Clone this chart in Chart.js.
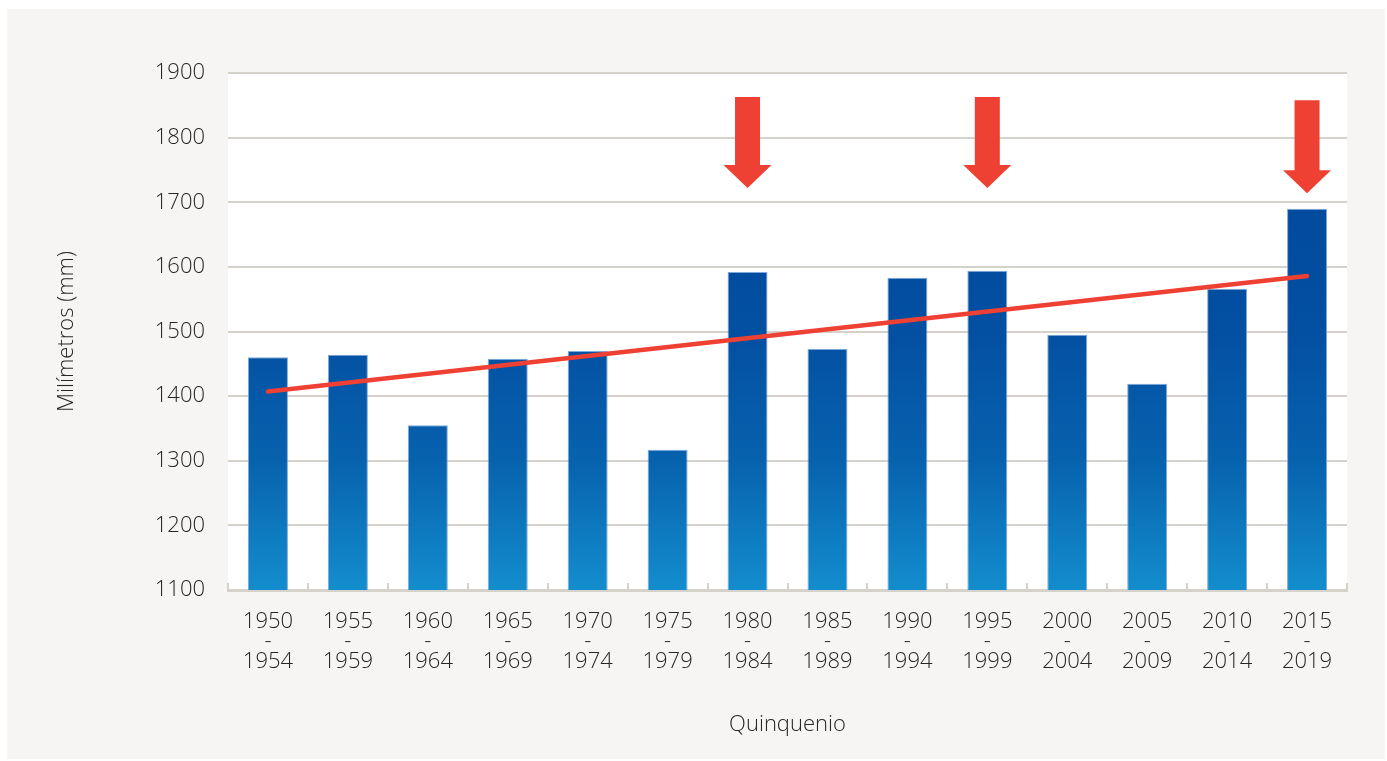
<!DOCTYPE html>
<html><head><meta charset="utf-8">
<script src="https://cdn.jsdelivr.net/npm/chart.js@4.4.1/dist/chart.umd.min.js"></script>
<style>
html,body{margin:0;padding:0;background:#fff;width:1387px;height:761px;overflow:hidden}
#panel{position:absolute;left:7px;top:9px;width:1378px;height:750px;background:#f6f5f3}
</style></head><body>
<div id="panel"><canvas id="c"></canvas></div>
<script>
const startYears = ['1950','1955','1960','1965','1970','1975','1980','1985','1990','1995','2000','2005','2010','2015'];
const endYears   = ['1954','1959','1964','1969','1974','1979','1984','1989','1994','1999','2004','2009','2014','2019'];
const precipitation = [1460,1464,1355,1458,1470,1317,1592,1473,1583,1594,1495,1419,1566,1690];
const trendValues = [1407,null,null,null,null,null,null,null,null,null,null,null,null,1586];
const yTickValues = [1100,1200,1300,1400,1500,1600,1700,1800,1900];
const arrowStartYears = ['1980','1995','2015'];
const arrowTopValues = [1863,1863,1858];
const arrowTipValues = [1722,1722,1714];

const categories = startYears.map((s,i)=>[s,'-',endYears[i]]);
const FONT = '"Open Sans", "Noto Sans", sans-serif';
const GRID = '#d5d1cb';

const plotBg = {
  id:'plotBg',
  beforeDraw(chart){
    const {ctx, chartArea:a} = chart;
    ctx.save(); ctx.fillStyle='#ffffff';
    ctx.fillRect(a.left, a.top, a.right-a.left, a.bottom-a.top);
    ctx.restore();
  }
};
const innerTicks = {
  id:'innerTicks',
  beforeDatasetsDraw(chart){
    const {ctx} = chart; const xs = chart.scales.x; const a = chart.chartArea;
    const n = categories.length;
    ctx.save(); ctx.strokeStyle=GRID; ctx.lineWidth=2;
    for(let i=0;i<=n;i++){
      const x = Math.round(xs.left + i*(xs.right-xs.left)/n);
      ctx.beginPath(); ctx.moveTo(x, a.bottom-7); ctx.lineTo(x, a.bottom); ctx.stroke();
    }
    ctx.restore();
  }
};
const arrows = {
  id:'arrows',
  afterDatasetsDraw(chart){
    const {ctx} = chart; const xs = chart.scales.x, ys = chart.scales.y;
    ctx.save(); ctx.fillStyle='#ee4133';
    arrowStartYears.forEach((yr,k)=>{
      const idx = startYears.indexOf(yr);
      const cx = xs.getPixelForValue(idx);
      const top = ys.getPixelForValue(arrowTopValues[k]);
      const tip = ys.getPixelForValue(arrowTipValues[k]);
      const headH = 23, shaftW = 12.5, headW = 24;
      ctx.beginPath();
      ctx.moveTo(cx-shaftW, top);
      ctx.lineTo(cx+shaftW, top);
      ctx.lineTo(cx+shaftW, tip-headH);
      ctx.lineTo(cx+headW, tip-headH);
      ctx.lineTo(cx, tip);
      ctx.lineTo(cx-headW, tip-headH);
      ctx.lineTo(cx-shaftW, tip-headH);
      ctx.closePath(); ctx.fill();
    });
    ctx.restore();
  }
};

function barGradient(context){
  const chart = context.chart; const a = chart.chartArea;
  if(!a) return '#0454a4';
  const g = chart.ctx.createLinearGradient(0, a.top, 0, a.bottom);
  g.addColorStop(0, '#02469b');
  g.addColorStop(0.5, '#034fa2');
  g.addColorStop(0.75, '#0762ae');
  g.addColorStop(1, '#138dcd');
  return g;
}

new Chart(document.getElementById('c'), {
  data:{
    labels: categories,
    datasets:[
      {type:'line', data: trendValues, spanGaps:true, borderColor:'#ee4133', borderWidth:4.5,
       borderCapStyle:'round', pointRadius:0, pointHoverRadius:0, fill:false, order:0},
      {type:'bar', data: precipitation, backgroundColor: barGradient, borderColor:'rgba(110,160,215,0.9)',
       borderWidth:1, barPercentage:0.5, categoryPercentage:1, order:1}
    ]
  },
  options:{
    responsive:true, maintainAspectRatio:false, animation:false,
    layout:{padding:{top:64,right:38,left:0,bottom:0}},
    plugins:{legend:{display:false}, tooltip:{enabled:false}},
    scales:{
      x:{
        offset:true,
        grid:{display:false},
        border:{display:true, color:GRID, width:3},
        ticks:{color:'#262626', padding:14, maxRotation:0, autoSkip:false,
               font:{family:FONT, size:22, weight:300, lineHeight:'20px'}},
        title:{display:true, text:'Quinquenio', color:'#262626', padding:{top:0,bottom:21},
               font:{family:FONT, size:22, weight:300}},
        afterFit(s){ s.height = 169; }
      },
      y:{
        min:1100, max:1900,
        afterBuildTicks(s){ s.ticks = yTickValues.map(v=>({value:v})); },
        grid:{color:GRID, lineWidth:2, drawTicks:false},
        border:{display:false},
        ticks:{color:'#262626', padding:23, font:{family:FONT, size:22, weight:300},
               callback:(v)=>String(v)},
        title:{display:true, text:'Milímetros (mm)', color:'#262626', padding:{top:47,bottom:0},
               font:{family:FONT, size:22, weight:300}},
        afterFit(s){ s.width = 221; }
      }
    }
  },
  plugins:[plotBg, innerTicks, arrows]
});
</script>
</body></html>
